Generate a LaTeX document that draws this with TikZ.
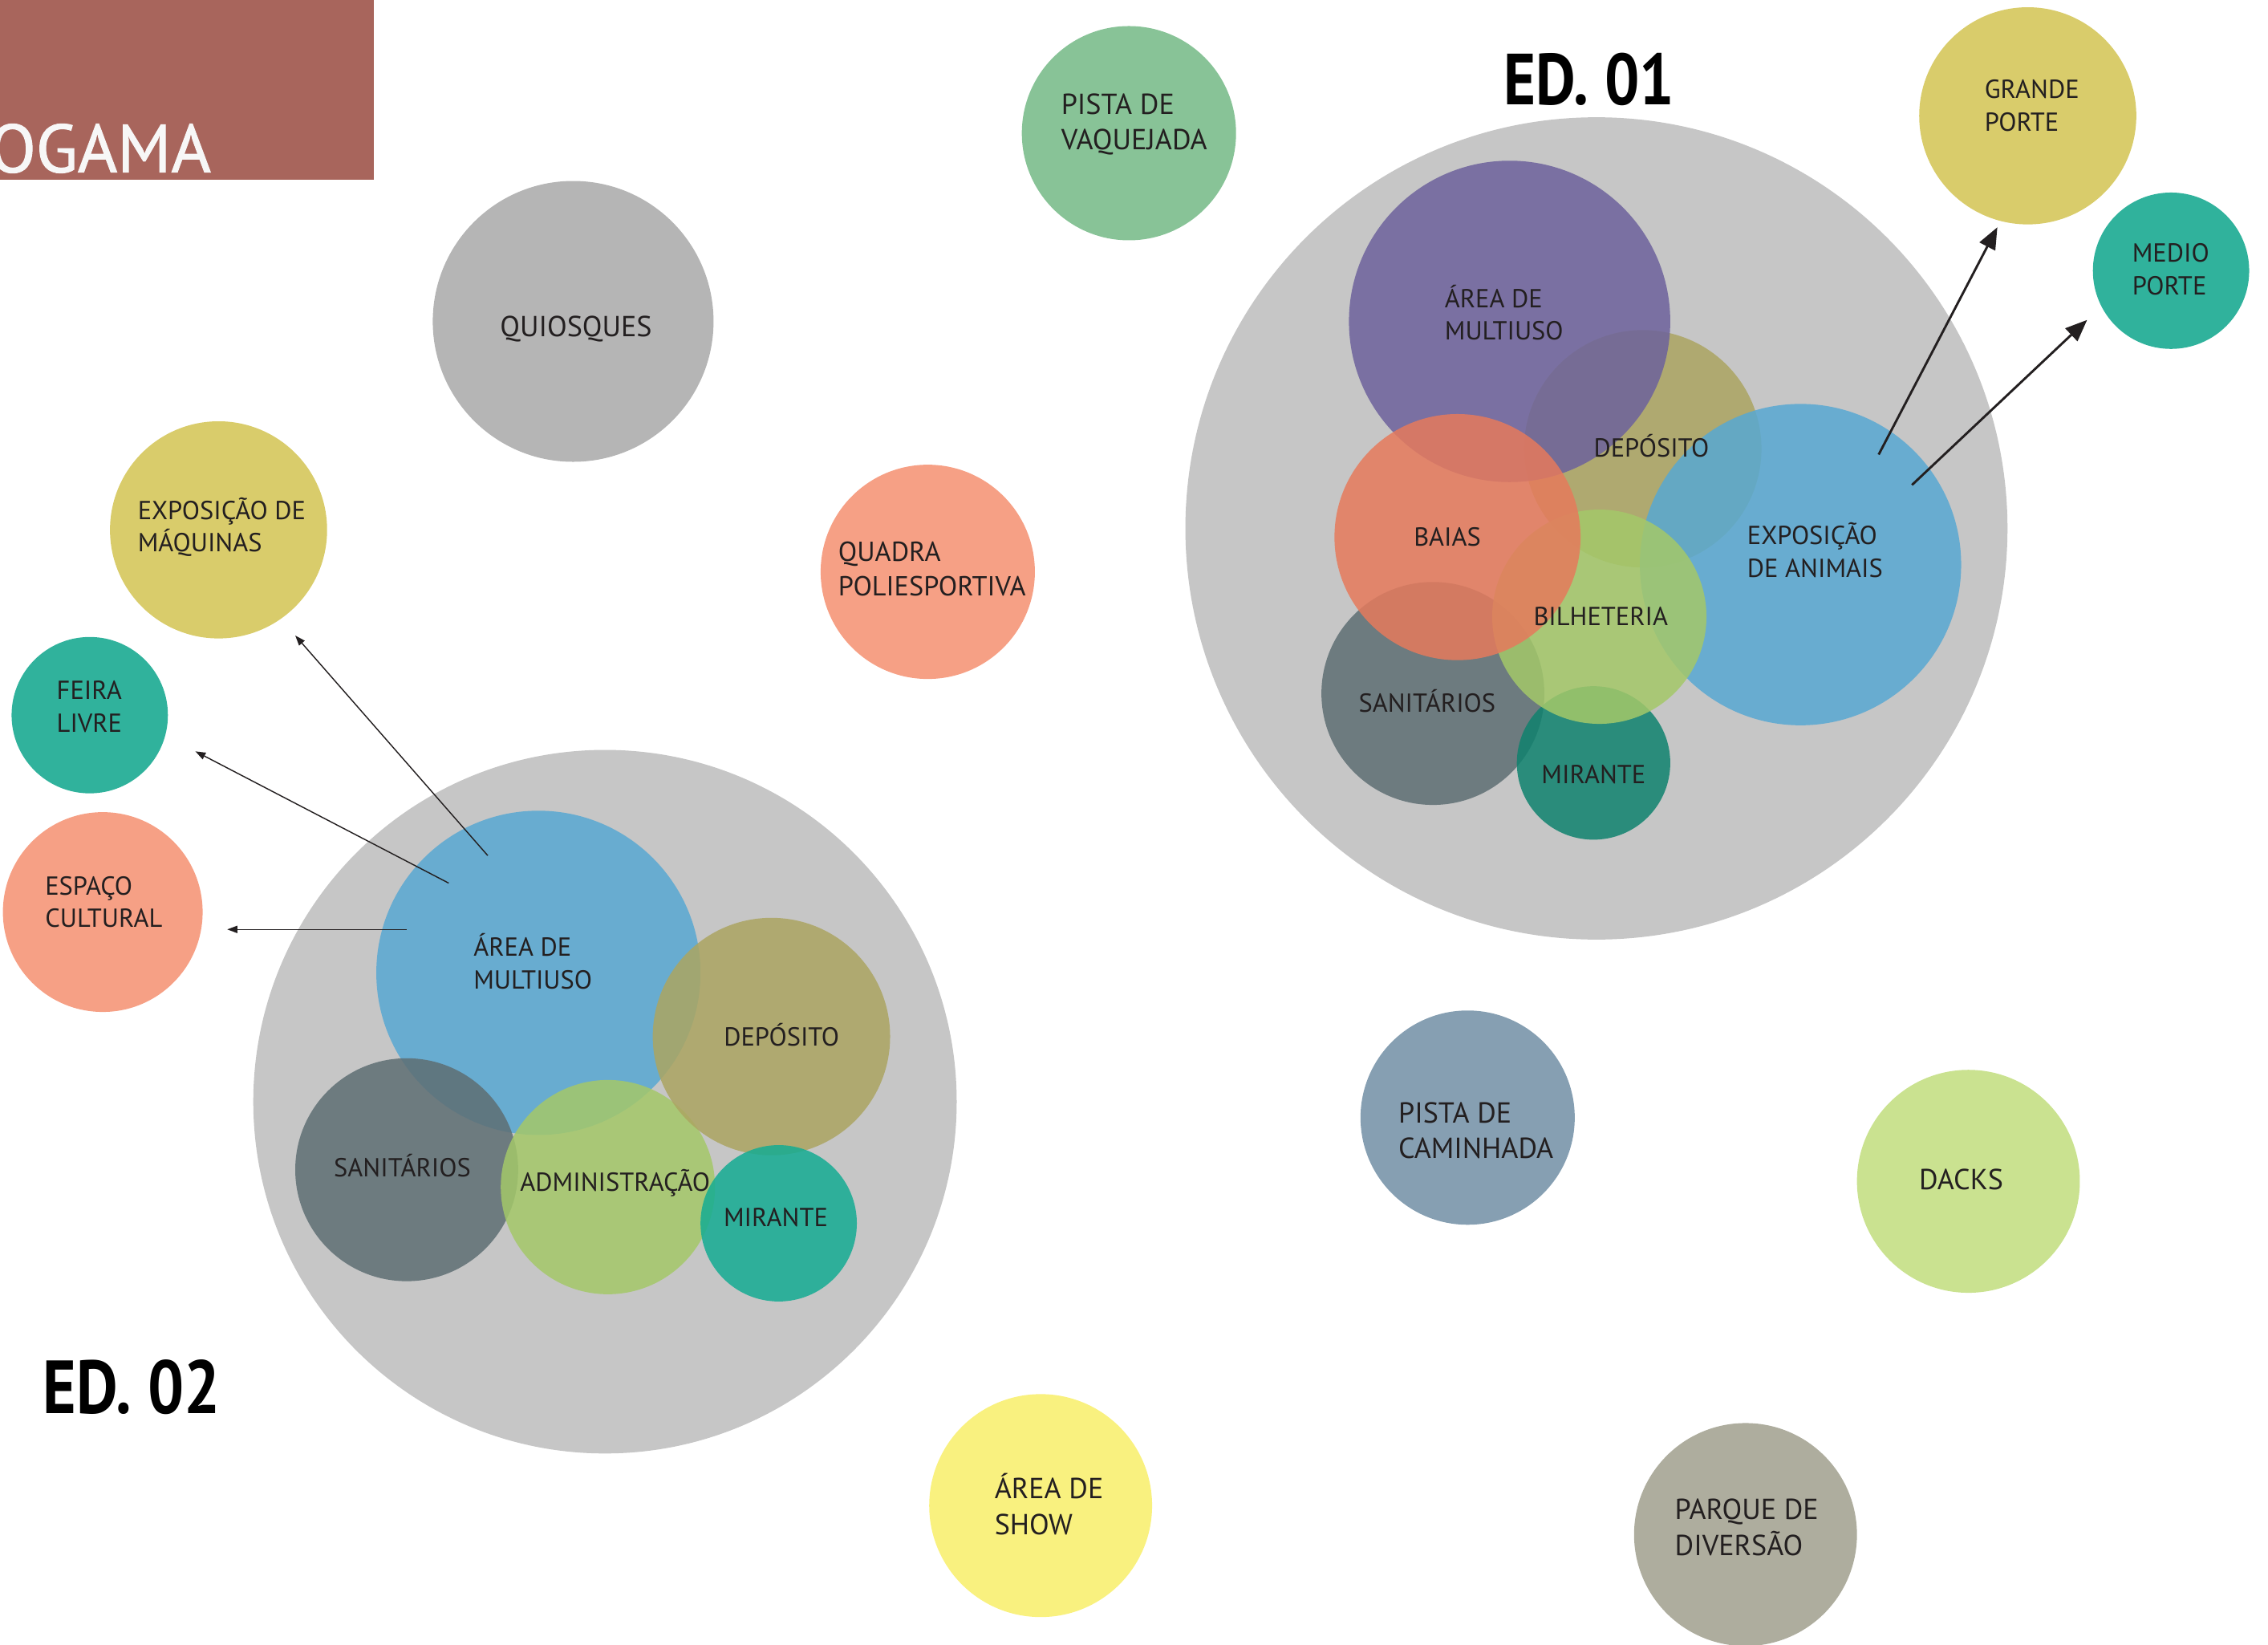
\documentclass[tikz,border=0pt]{standalone}
\usepackage{fontspec}
\setmainfont{PT Sans}
\newfontfamily\titlefont[FakeBold=1.2]{PT Sans}
\newfontfamily\edfont[FakeStretch=0.85]{PT Sans Bold}
\usetikzlibrary{arrows.meta}
\definecolor{ink}{HTML}{231F20}
\definecolor{cTitle}{HTML}{A8655C}
\definecolor{cQuiosque}{HTML}{B5B5B5}
\definecolor{cVaq}{HTML}{88C397}
\definecolor{cYellowOl}{HTML}{D9CC6B}
\definecolor{cTeal}{HTML}{30B29C}
\definecolor{cBigGray}{HTML}{C6C6C6}
\definecolor{cSalmon}{HTML}{F6A085}
\definecolor{cSlate}{HTML}{869FB2}
\definecolor{cLime}{HTML}{CAE290}
\definecolor{cShow}{HTML}{F9F17F}
\definecolor{cParque}{HTML}{AEAD9E}
\definecolor{cPurple}{HTML}{6D629C}
\definecolor{cOlive}{HTML}{ACA561}
\definecolor{cOrange}{HTML}{E67A5C}
\definecolor{cGreen}{HTML}{A4C869}
\definecolor{cBlue}{HTML}{58A8D2}
\definecolor{cDark}{HTML}{5E6E73}
\definecolor{cMirA}{HTML}{0F826E}
\definecolor{cMirB}{HTML}{14AC93}
\begin{document}
\begin{tikzpicture}[x=1pt,y=-1pt,
  bub/.style={circle, inner sep=0pt, outer sep=0pt, draw=none, minimum size=#1},
  inner/.style={fill opacity=0.85},
  lab/.style={font=\fontsize{18}{22.5}\selectfont, text=ink, align=left, inner sep=0pt},
  labbig/.style={font=\fontsize{20}{24.5}\selectfont, text=ink, align=left, inner sep=0pt},
  edlab/.style={font=\edfont\fontsize{50}{55}\selectfont, text=black, inner sep=0pt},
  bigarrow/.style={draw=ink, line width=1.6pt, -{Triangle[length=15pt,width=12pt]}},
  thinarrow/.style={draw=ink, line width=0.8pt, -{Triangle[length=7pt,width=5pt]}}
]
\useasboundingbox (0,0) rectangle (1567,1136);

% title box
\node[fill=cTitle, minimum width=258pt, minimum height=124pt, inner sep=0pt, anchor=north west] (titlebox) at (0,0) {};
\node[font=\titlefont\fontsize{47}{50}\selectfont, text=white!97!black, inner sep=0pt, anchor=base east] (titletext) at (146,119) {OGAMA};

% standalone bubbles
\node[bub=194pt, fill=cQuiosque] (quiosques) at (396,222) {};
\node[bub=148pt, fill=cVaq] (vaquejada) at (780,92) {};
\node[bub=150pt, fill=cYellowOl] (grande) at (1401,80) {};
\node[bub=108pt, fill=cTeal] (medio) at (1500,187) {};
\node[bub=150pt, fill=cYellowOl] (maquinas) at (151,366) {};
\node[bub=108pt, fill=cTeal] (feira) at (62,494) {};
\node[bub=138pt, fill=cSalmon] (espaco) at (71,630) {};
\node[bub=148pt, fill=cSalmon] (quadra) at (641,395) {};
\node[bub=148pt, fill=cSlate] (caminhada) at (1014,772) {};
\node[bub=154pt, fill=cLime] (dacks) at (1360,816) {};
\node[bub=154pt, fill=cShow] (show) at (719,1040) {};
\node[bub=154pt, fill=cParque] (parque) at (1206,1060) {};

% ED. 01 group
\node[bub=568pt, fill=cBigGray] (edA) at (1103,365) {};
\node[bub=164pt, fill=cOlive, inner] (depA) at (1135,310) {};
\node[bub=222pt, fill=cPurple, inner] (multA) at (1043,222) {};
\node[bub=154pt, fill=cDark, inner] (sanA) at (990,479) {};
\node[bub=106pt, fill=cMirA, inner] (mirA) at (1101,527) {};
\node[bub=222pt, fill=cBlue, inner] (animais) at (1244,390) {};
\node[bub=148pt, fill=cGreen, inner] (bilh) at (1105,426) {};
\node[bub=170pt, fill=cOrange, inner] (baias) at (1007,371) {};

% ED. 02 group
\node[bub=486pt, fill=cBigGray] (edB) at (418,761) {};
\node[bub=224pt, fill=cBlue, inner] (multB) at (372,672) {};
\node[bub=154pt, fill=cDark, inner] (sanB) at (281,808) {};
\node[bub=148pt, fill=cGreen, inner] (adm) at (420,820) {};
\node[bub=164pt, fill=cOlive, inner] (depB) at (533,716) {};
\node[bub=108pt, fill=cMirB, inner] (mirB) at (538,845) {};

% labels
\node[labbig] (tQuiosques) at (398,227) {QUIOSQUES};
\node[labbig, anchor=west] (tVaq) at (733,86) {PISTA DE\\VAQUEJADA};
\node[lab, anchor=west] (tGrande) at (1371,73) {GRANDE\\PORTE};
\node[lab, anchor=west] (tMedio) at (1473,186) {MEDIO\\PORTE};
\node[lab, anchor=west] (tMaq) at (95,364) {EXPOSIÇÃO DE\\MÁQUINAS};
\node[lab, anchor=west] (tFeira) at (39,488) {FEIRA\\LIVRE};
\node[lab, anchor=west] (tEspaco) at (31,623) {ESPAÇO\\CULTURAL};
\node[lab, anchor=west, font=\fontsize{19}{23.5}\selectfont] (tQuadra) at (579,393) {QUADRA\\POLIESPORTIVA};
\node[labbig, anchor=west] (tCaminhada) at (966,781) {PISTA DE\\CAMINHADA};
\node[labbig] (tDacks) at (1355,815) {DACKS};
\node[labbig, anchor=west] (tShow) at (687,1039) {ÁREA DE\\SHOW};
\node[labbig, anchor=west] (tParque) at (1157,1055) {PARQUE DE\\DIVERSÃO};

\node[lab, anchor=west] (tMultA) at (998,216) {ÁREA DE\\MULTIUSO};
\node[lab] (tDepA) at (1141,308) {DEPÓSITO};
\node[lab] (tBaias) at (1000,371) {BAIAS};
\node[lab, anchor=west] (tAnimais) at (1207,380) {EXPOSIÇÃO\\DE ANIMAIS};
\node[lab] (tBilh) at (1106,426) {BILHETERIA};
\node[lab] (tSanA) at (986,484) {SANITÁRIOS};
\node[lab] (tMirA) at (1101,535) {MIRANTE};

\node[lab, anchor=west] (tMultB) at (327,664) {ÁREA DE\\MULTIUSO};
\node[lab] (tDepB) at (540,715) {DEPÓSITO};
\node[lab] (tSanB) at (278,805) {SANITÁRIOS};
\node[lab] (tAdm) at (425,817) {ADMINISTRAÇÃO};
\node[lab] (tMirB) at (536,841) {MIRANTE};

\node[edlab] (ed01) at (1098,55) {ED. 01};
\node[edlab, font=\edfont\fontsize{52}{56}\selectfont] (ed02) at (91,958) {ED. 02};

% connectors
\coordinate (aA1) at (1298,314);
\coordinate (aA1t) at (1380,157);
\coordinate (aA2) at (1321,335);
\coordinate (aA2t) at (1442,221);
\draw[bigarrow] (aA1) -- (aA1t);
\draw[bigarrow] (aA2) -- (aA2t);

\coordinate (aB1) at (337,591);
\coordinate (aB1t) at (204,439);
\coordinate (aB2) at (310,610);
\coordinate (aB2t) at (135,519);
\coordinate (aB3) at (281,642);
\coordinate (aB3t) at (157,642);
\draw[thinarrow] (aB1) -- (aB1t);
\draw[thinarrow] (aB2) -- (aB2t);
\draw[thinarrow] (aB3) -- (aB3t);
\end{tikzpicture}
\end{document}
